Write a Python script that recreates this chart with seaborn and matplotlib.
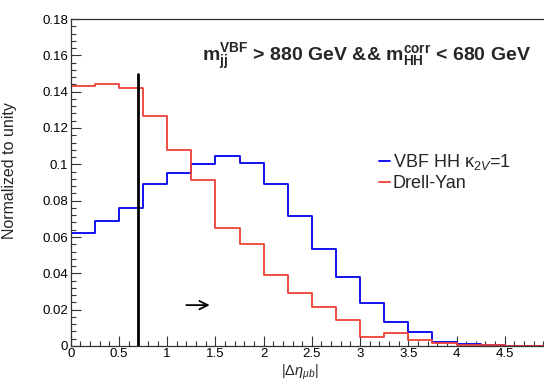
import numpy as np
import pandas as pd
import seaborn as sns
import matplotlib
matplotlib.use("Agg")
import matplotlib.pyplot as plt
from matplotlib.ticker import MultipleLocator, FuncFormatter

# ---- data ----
bin_edges = [0.0, 0.25, 0.5, 0.75, 1.0, 1.25, 1.5, 1.75, 2.0, 2.25, 2.5,
             2.75, 3.0, 3.25, 3.5, 3.75, 4.0, 4.25, 4.5, 4.75, 5.0]
vbf_values = [0.062, 0.069, 0.076, 0.089, 0.095, 0.1003, 0.1045, 0.1009,
              0.0893, 0.0718, 0.0536, 0.0381, 0.0239, 0.0133, 0.0075,
              0.0024, 0.0011, 0.0004, 0.0001, 0.0001]
dy_values = [0.143, 0.1443, 0.1422, 0.1268, 0.1077, 0.0915, 0.0648, 0.0561,
             0.0392, 0.0294, 0.0212, 0.0144, 0.0050, 0.0070, 0.0033,
             0.0018, 0.0008, 0.0003, 0.0001, 0.0001]
series_names = ["VBF HH κ$_{2V}$=1", "Drell-Yan"]
cut_value = 0.7
cut_top = 0.150

centers = [(a + b) / 2 for a, b in zip(bin_edges[:-1], bin_edges[1:])]
df = pd.DataFrame({
    "x": centers * 2,
    "w": vbf_values + dy_values,
    "sample": [series_names[0]] * len(centers) + [series_names[1]] * len(centers),
})

sns.set_style("ticks")
plt.rcParams["font.family"] = ["Liberation Sans", "DejaVu Sans"]
plt.rcParams["mathtext.fontset"] = "custom"
plt.rcParams["mathtext.rm"] = "Liberation Sans"
plt.rcParams["mathtext.it"] = "Liberation Sans:italic"
plt.rcParams["mathtext.bf"] = "Liberation Sans:bold"

W, H = 544, 382
fig = plt.figure(figsize=(W / 100, H / 100), dpi=100)
x0_px, x5_px, ytop_px, y0_px = 70.7, 553.0, 19.0, 346.0
ax = fig.add_axes([x0_px / W, (H - y0_px) / H, (x5_px - x0_px) / W, (y0_px - ytop_px) / H])

colors = ["#0000ee", "#ee4035"]
for name, col in zip(series_names, colors):
    sub = df[df["sample"] == name]
    sns.histplot(data=sub, x="x", weights="w", bins=bin_edges, element="step",
                 fill=False, color=col, linewidth=1.3, ax=ax, label=name)

ax.plot([cut_value, cut_value], [0, cut_top], color="black", lw=2.0, zorder=5)
ax.annotate("", xy=(1.47, 0.0225), xytext=(1.17, 0.0225),
            arrowprops=dict(arrowstyle="->", color="black", lw=1.3,
                            mutation_scale=15))

ax.set_xlim(0, 5)
ax.set_ylim(0, 0.18)
ax.xaxis.set_major_locator(MultipleLocator(0.5))
ax.xaxis.set_minor_locator(MultipleLocator(0.1))
ax.yaxis.set_major_locator(MultipleLocator(0.02))
ax.yaxis.set_minor_locator(MultipleLocator(0.004))
xfmt = FuncFormatter(lambda v, p: "" if v > 4.75 else "%g" % round(v, 4))
yfmt = FuncFormatter(lambda v, p: "%g" % round(v, 4))
ax.xaxis.set_major_formatter(xfmt)
ax.yaxis.set_major_formatter(yfmt)
ax.tick_params(which="both", direction="in", top=False, right=False,
               labelsize=9.5, colors="#333333", labelcolor="black", width=0.8)
ax.tick_params(which="major", length=7)
ax.tick_params(which="minor", length=3.5)
ax.tick_params(axis="x", pad=1.5)
ax.tick_params(axis="y", pad=2)
for s in ax.spines.values():
    s.set_color("#333333")
    s.set_linewidth(0.9)

ax.set_xlabel(r"$|\Delta\eta_{\mu b}|$", fontsize=10.5, labelpad=0)
ax.xaxis.set_label_coords((300 - x0_px) / (x5_px - x0_px), -0.05)
ax.set_ylabel("Normalized to unity", fontsize=11.5)
ax.yaxis.set_label_coords(-0.112, 0.535)

ax.text(0.955, 0.885,
        r"$\mathbf{m_{jj}^{VBF}}$ > 880 GeV && $\mathbf{m_{HH}^{corr}}$ < 680 GeV",
        transform=ax.transAxes, ha="right", va="center", fontsize=14,
        fontweight="bold")

leg = ax.legend(loc="upper left", bbox_to_anchor=(0.625, 0.615), frameon=False,
                fontsize=13, handlelength=0.6, handletextpad=0.15,
                labelspacing=0.15, borderaxespad=0)

fig.savefig("out.png", dpi=100)
